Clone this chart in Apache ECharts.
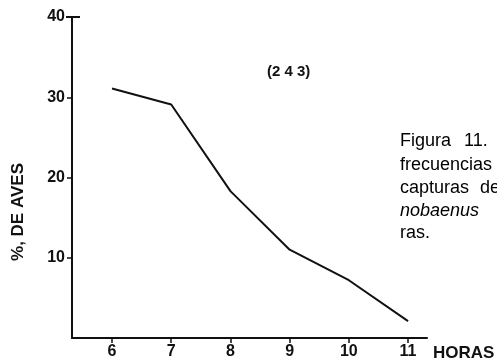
<!DOCTYPE html>
<html>
<head>
<meta charset="utf-8">
<script src="https://cdn.jsdelivr.net/npm/echarts@6/dist/echarts.min.js"></script>
<style>html,body{margin:0;padding:0;background:#fff}#c{width:497px;height:360px}</style>
</head>
<body>
<div id="c"></div>
<script>
const hours = [6, 7, 8, 9, 10, 11];
const pctBirds = [31.1, 29.1, 18.3, 11.0, 7.2, 2.1];
const yTicks = [10, 20, 30, 40];
const xTitle = 'HORAS';
const yTitle = '%, DE AVES';
const sampleLabel = '(2 4 3)';
const captionLines = ['frecuencias', 'nobaenus', 'ras.'];

const chart = echarts.init(document.getElementById('c'), null, {renderer: 'canvas'});
const font = 'Liberation Sans, Arial, Helvetica, sans-serif';
const ink = '#111';
chart.setOption({
  animation: false,
  backgroundColor: '#fff',
  grid: {left: 72, top: 17, right: 70, bottom: 20, containLabel: false},
  xAxis: {
    type: 'value', min: 5.324, max: 11.32,
    axisLine: {show: true, lineStyle: {color: ink, width: 2}},
    axisTick: {show: true, length: 5, lineStyle: {color: ink, width: 1.5}, customValues: hours},
    axisLabel: {customValues: hours, margin: 6, color: ink, fontFamily: font, fontWeight: 'bold', fontSize: 16},
    splitLine: {show: false}
  },
  yAxis: {
    type: 'value', min: 0, max: 40, interval: 10,
    axisLine: {show: true, lineStyle: {color: ink, width: 2}},
    axisTick: {show: true, length: 5, lineStyle: {color: ink, width: 1.5}, customValues: yTicks},
    axisLabel: {customValues: yTicks, margin: 7, color: ink, fontFamily: font, fontWeight: 'bold', fontSize: 16},
    splitLine: {show: false}
  },
  series: [{
    type: 'line',
    data: hours.map((h, i) => [h, pctBirds[i]]),
    symbol: 'none',
    lineStyle: {color: ink, width: 2},
    silent: true
  }],
  graphic: [
    {type: 'text', x: 18.5, y: 212, rotation: Math.PI / 2,
     style: {text: yTitle, fill: ink, font: 'bold 17px ' + font, align: 'center', verticalAlign: 'middle'}},
    {type: 'text', x: 433, y: 353,
     style: {text: xTitle, fill: ink, font: 'bold 17px ' + font, align: 'left', verticalAlign: 'middle'}},
    {type: 'text', x: 267, y: 72,
     style: {text: sampleLabel, fill: ink, font: 'bold 15px ' + font, align: 'left', verticalAlign: 'middle'}},
    {type: 'line', shape: {x1: 66, y1: 17, x2: 80, y2: 17}, style: {stroke: ink, lineWidth: 2}},
    {type: 'text', x: 400, y: 141, style: {text: 'Figura', fill: '#000', font: '18px ' + font, verticalAlign: 'middle'}},
    {type: 'text', x: 464, y: 141, style: {text: '11.', fill: '#000', font: '18px ' + font, verticalAlign: 'middle'}},
    {type: 'text', x: 400, y: 165, style: {text: captionLines[0], fill: '#000', font: '18px ' + font, verticalAlign: 'middle'}},
    {type: 'text', x: 400, y: 188, style: {text: 'capturas', fill: '#000', font: '18px ' + font, verticalAlign: 'middle'}},
    {type: 'text', x: 480, y: 188, style: {text: 'de', fill: '#000', font: '18px ' + font, verticalAlign: 'middle'}},
    {type: 'text', x: 400, y: 211, style: {text: captionLines[1], fill: '#000', font: 'italic 18px ' + font, verticalAlign: 'middle'}},
    {type: 'text', x: 400, y: 233, style: {text: captionLines[2], fill: '#000', font: '18px ' + font, verticalAlign: 'middle'}}
  ]
});
</script>
</body>
</html>
